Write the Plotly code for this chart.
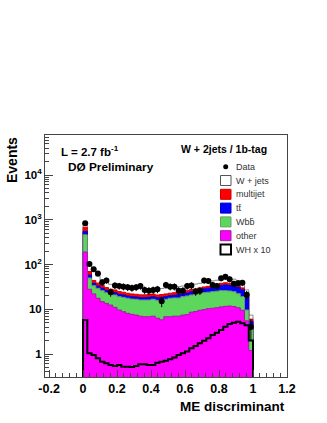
import numpy as np
import plotly.graph_objects as go

# 40 bins of 0.025 on the ME discriminant
edges = np.linspace(0, 1, 41)
centers = 0.5 * (edges[:-1] + edges[1:])

# background contributions per bin
other = [190, 28, 22, 17.6, 14.8, 13.5, 12.4, 11, 9.6, 8.8,
         8.1, 7.7, 7.4, 7.0, 6.8, 6.8, 7.0, 6.3, 5.8, 6.8,
         6.8, 7.0, 7.0, 7.4, 7.6, 8.6, 8.9, 9.5, 9.8, 10.3,
         10.5, 10.8, 11.3, 11.6, 11.8, 11.5, 10.8, 9.5, 5.5, 1.2]
wbb = [270, 22, 11.6, 11.7, 11.2, 10, 9.1, 9.8, 9.5, 9.6,
       9.5, 9.2, 9.3, 9.1, 9.3, 9.3, 9.7, 9.5, 10.3, 9.9,
       10.8, 10.9, 10.9, 11.7, 12.2, 12.2, 12.6, 12.8, 13.7, 13.7,
       14.2, 14.5, 14.7, 14.4, 13.8, 13.2, 11.5, 9.6, 4.1, 3.1]
ttbar = [90, 8, 4.4, 3.7, 3.5, 3.0, 3.0, 2.7, 2.4, 2.4,
         2.2, 2.1, 2.1, 2.1, 2.1, 2.4, 2.3, 2.2, 2.4, 2.5,
         2.4, 2.6, 3.1, 2.9, 3.2, 3.7, 4.0, 4.7, 5.0, 5.5,
         6.3, 6.7, 8.0, 9.0, 8.4, 8.3, 8.2, 7.9, 11.9, 1.0]
multijet = [130, 12, 6, 5.5, 4.5, 4.0, 3.5, 3.5, 3.3, 3.2,
            3.0, 3.0, 2.8, 2.8, 2.8, 2.8, 2.8, 2.8, 2.8, 2.8,
            2.8, 2.9, 3.0, 3.0, 3.0, 3.0, 3.0, 3.0, 3.0, 3.0,
            3.0, 3.0, 4.0, 4.0, 4.0, 4.0, 3.5, 3.0, 2.0, 0.7]
wjets = [170, 35, 26, 16.5, 11, 9.5, 8, 7, 7.2, 7,
         7.2, 7.5, 7.4, 8, 7.5, 7.2, 7.2, 8.2, 7.7, 8,
         8.2, 8.1, 8, 8, 8, 7.5, 8, 8, 8.5, 9,
         9, 9.5, 9, 9, 10, 10, 10, 10, 3.5, 1.4]

data = [840, 102, 78, 63, 40, 44, 24, 34, 33, 32,
        31, 30, 31, 33, 27, 26, 27, 28, 15, 35,
        32, 32, 26, 26, 33, 34, 25, 26, 44, 43,
        35, 33, 49, 53, 47, 37, 38, 39, 21, 4]

wh_x10 = [5.75, 1.04, 0.95, 0.8, 0.67, 0.62, 0.57, 0.54, 0.57, 0.52,
          0.52, 0.51, 0.54, 0.59, 0.59, 0.57, 0.57, 0.64, 0.67, 0.71,
          0.76, 0.84, 0.95, 1.04, 1.13, 1.34, 1.51, 1.73, 1.98, 2.24,
          2.66, 3.0, 3.44, 4.07, 4.68, 5.0, 5.28, 4.85, 4.4, 2.0]

FLOOR = 0.01
FONT = "Liberation Sans"


def steps(vals):
    vals = np.asarray(vals, dtype=float)
    x = np.concatenate([[edges[0]], edges, [edges[-1]]])
    y = np.concatenate([[FLOOR], vals, [vals[-1], FLOOR]])
    return x, y


# cumulative stack, bottom to top
s_other = np.array(other, dtype=float)
s_wbb = s_other + wbb
s_tt = s_wbb + ttbar
s_mj = s_tt + multijet
s_total = s_mj + wjets

fig = go.Figure()

layers = [
    (s_total, "white", "#8a8a8a"),
    (s_mj, "#ff0000", "#d00000"),
    (s_tt, "#0000ff", "#0000c8"),
    (s_wbb, "#5cd65c", "#6f9a6f"),
    (s_other, "#ff00ff", "#a01fa0"),
]
for top, fill, line in layers:
    x, y = steps(top)
    fig.add_trace(go.Scatter(x=x, y=y, mode="lines", line_shape="hv",
                             fill="toself", fillcolor=fill,
                             line=dict(color=line, width=1),
                             hoverinfo="skip"))

x, y = steps(wh_x10)
fig.add_trace(go.Scatter(x=x, y=y, mode="lines", line_shape="hv",
                         line=dict(color="black", width=2)))

fig.add_trace(go.Scatter(x=centers, y=data, mode="markers",
                         marker=dict(color="black", size=6, symbol="circle"),
                         error_y=dict(type="data", array=np.sqrt(data),
                                      thickness=1, width=0, color="black")))

# pixel -> paper helpers (plot area 45..287 x 135..377)
def px(xp):
    return (xp - 45) / 242.0


def py(yp):
    return (377 - yp) / 242.0


shapes = []
annotations = []

# legend drawn by hand (ROOT style)
leg_labels = ["Data", "W + jets", "multijet", "tt\u0304", "Wbb\u0304", "other", "WH x 10"]
leg_fill = [None, "white", "#ff0000", "#0000ff", "#5cd65c", "#ff00ff", "white"]
leg_line = [None, "#555555", "#d00000", "#0000c8", "#6f9a6f", "#a01fa0", "black"]
leg_width = [0, 1, 1, 1, 1, 1, 2]
for i, lab in enumerate(leg_labels):
    yc = 166.7 + 13.8 * i
    if leg_fill[i] is None:
        shapes.append(dict(type="circle", xref="paper", yref="paper",
                           x0=px(223.2), x1=px(228.2), y0=py(yc + 2.5), y1=py(yc - 2.5),
                           fillcolor="black", line=dict(color="black", width=0)))
    else:
        shapes.append(dict(type="rect", xref="paper", yref="paper",
                           x0=px(220.5), x1=px(231), y0=py(yc + 5), y1=py(yc - 5),
                           fillcolor=leg_fill[i],
                           line=dict(color=leg_line[i], width=leg_width[i])))
    annotations.append(dict(text=lab, xref="paper", yref="paper",
                            x=px(233.5), y=py(yc), xanchor="left", yanchor="middle",
                            showarrow=False,
                            font=dict(family=FONT, size=9, color="#333333")))

annotations += [
    dict(text="<b>W + 2jets / 1b-tag</b>", x=px(224), y=py(149), xanchor="center",
         font=dict(family=FONT, size=10.5, color="black")),
    dict(text="<b>L = 2.7 fb<sup>-1</sup></b>", x=px(59), y=py(151), xanchor="left",
         font=dict(family=FONT, size=11.5, color="black")),
    dict(text="<b>D\u00d8 Preliminary</b>", x=px(66), y=py(166.5), xanchor="left",
         font=dict(family=FONT, size=11.8, color="black")),
    dict(text="<b>Events</b>", x=px(12), y=py(135), xanchor="center", yanchor="top",
         textangle=-90, font=dict(family=FONT, size=14, color="black")),
    dict(text="<b>ME discriminant</b>", x=px(287), y=py(406), xanchor="right",
         font=dict(family=FONT, size=13.5, color="black")),
]
for a in annotations[len(leg_labels):]:
    a.setdefault("xref", "paper")
    a.setdefault("yref", "paper")
    a.setdefault("showarrow", False)
    a.setdefault("yanchor", "middle")

fig.update_layout(
    width=327, height=423,
    margin=dict(l=45, r=40, t=135, b=46),
    plot_bgcolor="white", paper_bgcolor="white",
    showlegend=False,
    shapes=shapes, annotations=annotations,
    font=dict(family=FONT, color="black"),
)

fig.update_xaxes(
    range=[-0.224, 1.2],
    tickmode="array",
    tickvals=[-0.2, 0, 0.2, 0.4, 0.6, 0.8, 1.0, 1.2],
    ticktext=["-0.2", "0", "0.2", "0.4", "0.6", "0.8", "1", "1.2"],
    tickfont=dict(family=FONT, size=12.5, color="black", weight="bold"),
    ticks="inside", ticklen=7, tickcolor="#444444",
    minor=dict(ticks="inside", ticklen=4, tick0=0, dtick=0.04, tickcolor="#444444", showgrid=False),
    showline=True, linecolor="#444444", linewidth=1, mirror=True,
    showgrid=False, zeroline=False,
)
fig.update_yaxes(
    type="log",
    range=[-0.514, 4.894],
    tickmode="array",
    tickvals=[1, 10, 100, 1000, 10000],
    ticktext=["1", "10", "10<sup>2</sup>", "10<sup>3</sup>", "10<sup>4</sup>"],
    tickfont=dict(family=FONT, size=11.5, color="black", weight="bold"),
    ticks="inside", ticklen=8, tickcolor="#444444",
    minor=dict(ticks="inside", ticklen=4, dtick="D1", tickcolor="#444444", showgrid=False),
    showline=True, linecolor="#444444", linewidth=1, mirror=True,
    showgrid=False, zeroline=False,
)

# drop the browser's default 8px body margin so the figure sits at the window origin
fig.write_html("out.html", config={"displayModeBar": False},
               post_script="document.body.style.margin='0';")
